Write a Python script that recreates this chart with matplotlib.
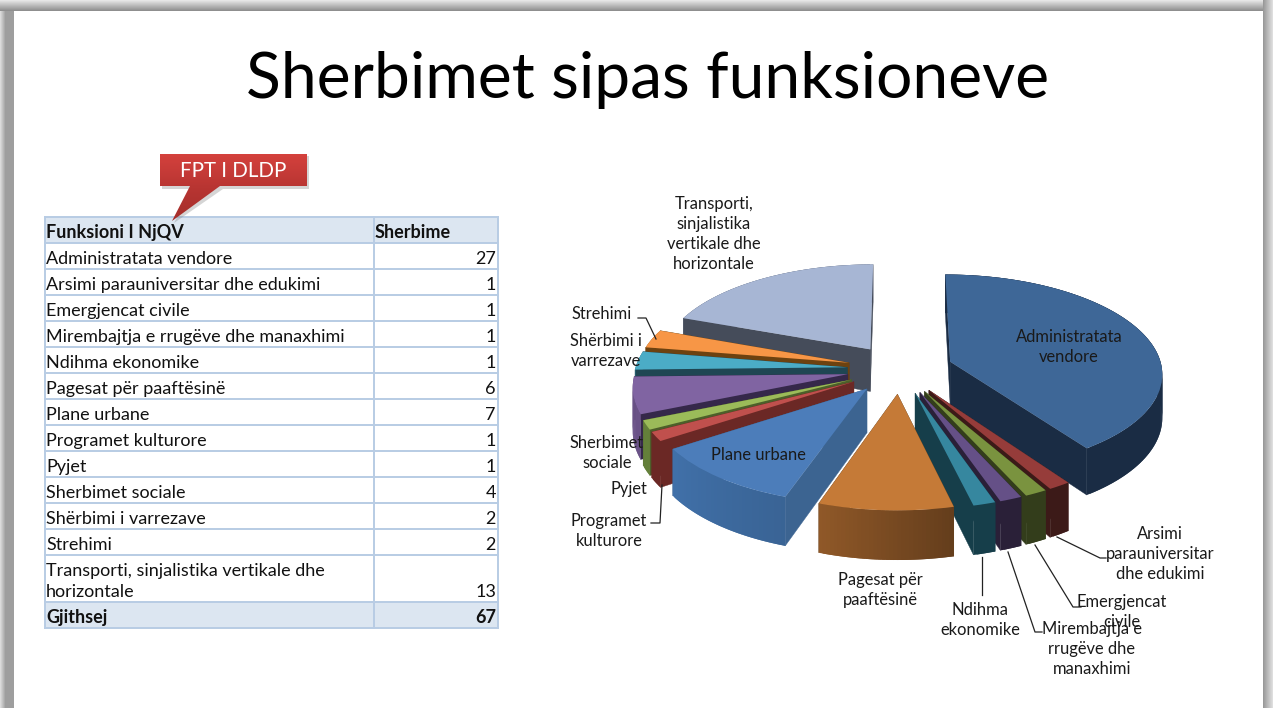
import numpy as np
import matplotlib
matplotlib.use('Agg')
import matplotlib.pyplot as plt
import matplotlib.transforms as mtransforms
from matplotlib.colors import to_rgb, LinearSegmentedColormap
from matplotlib.patches import Rectangle, Polygon

plt.rcParams['font.family'] = ['Lato', 'DejaVu Sans']

# table and pie data
functions = ['Administratata vendore', 'Arsimi parauniversitar dhe edukimi', 'Emergjencat civile',
             'Mirembajtja e rrugëve dhe manaxhimi', 'Ndihma ekonomike', 'Pagesat për paaftësinë',
             'Plane urbane', 'Programet kulturore', 'Pyjet', 'Sherbimet sociale',
             'Shërbimi i varrezave', 'Strehimi', 'Transporti, sinjalistika vertikale dhe\nhorizontale']
services = [27, 1, 1, 1, 1, 6, 7, 1, 1, 4, 2, 2, 13]
total_label = 'Gjithsej'
total_value = 67

top_colors = ['#3e6797', '#963c3a', '#7a933f', '#655087', '#36879f', '#c57a37', '#4c7dba',
              '#c0504d', '#9bbb59', '#8064a2', '#4bacc6', '#f79646', '#a7b6d4']
wall_colors = ['#1a2c44', '#3c1a18', '#333d1b', '#2a2038', '#163e4a', '#7a4b22', '#3d6a9f',
               '#6b2825', '#64803a', '#6a5287', '#2f7f95', '#b06a28', '#6f7a90']
cut_colors = ['#1a2c44', '#3c1a18', '#333d1b', '#2a2038', '#163e4a', '#6d4520', '#3c6491',
              '#6b2825', '#4d5f2a', '#35284a', '#1f4653', '#6d4210', '#454c5a']
wall_fade = [0, 0, 0, 0, 0, 0.35, 0.12, 0, 0, 0, 0, 0, 0]

# pie labels: text, x, y (pixels)
pie_labels = [('Transporti,\nsinjalistika\nvertikale dhe\nhorizontale', 714, 234),
              ('Strehimi', 602, 314),
              ('Shërbimi i\nvarrezave', 606, 351),
              ('Sherbimet\nsociale', 607, 453),
              ('Pyjet', 629, 489),
              ('Programet\nkulturore', 609, 531),
              ('Administratata\nvendore', 1069, 347),
              ('Plane urbane', 758, 455),
              ('Pagesat për\npaaftësinë', 880, 590),
              ('Ndihma\nekonomike', 980, 620),
              ('Emergjencat\ncivile', 1122, 612),
              ('Mirembajtja e\nrrugëve dhe\nmanaxhimi', 1092, 649),
              ('Arsimi\nparauniversitar\ndhe edukimi', 1160, 554)]
leaders = [[(638, 318), (646, 318), (656, 339)],
           [(651, 523), (660, 523), (662, 485)],
           [(1057, 537), (1100, 558), (1106, 558)],
           [(1035, 545), (1073, 607), (1081, 607)],
           [(1008, 552), (1035, 632), (1042, 632)],
           [(982, 557), (982, 595)]]

# 3d look of the pie
CX, CY = 900, 369
RX, RY = 212, 98
PERSP = 0.107
DEPTH = 43
EXPLODE = 0.25


def project(x, y, z=0.0):
    s = 1.0 / (1.0 + PERSP * y)
    return CX + RX * x * s, CY - RY * y * s + DEPTH * z * s


class Tilt(mtransforms.Transform):
    input_dims = 2
    output_dims = 2

    def transform_non_affine(self, values):
        values = np.asarray(values)
        px, py = project(values[:, 0], values[:, 1])
        return np.column_stack([px, py])


def shade(color, f):
    return tuple(min(1, c * f) for c in to_rgb(color))


fig = plt.figure(figsize=(12.73, 7.08), dpi=100)
ax = fig.add_axes([0, 0, 1, 1])

wedges, _ = ax.pie(services, explode=[EXPLODE] * len(services), startangle=90, counterclock=False,
                   colors=top_colors, wedgeprops={'linewidth': 0})

# slices from the back to the front
mids = [np.radians((w.theta1 + w.theta2) / 2) for w in wedges]
order = np.argsort([-np.sin(m) for m in mids])
tilt = Tilt() + ax.transData

for rank, i in enumerate(order):
    w = wedges[i]
    z0 = 10 + rank * 4
    cx0, cy0 = w.center
    angles = np.radians(np.linspace(w.theta1, w.theta2, int(abs(w.theta2 - w.theta1)) + 3))
    xs = cx0 + w.r * np.cos(angles)
    ys = cy0 + w.r * np.sin(angles)

    # outer wall, strips overlap a bit so no seams show
    for k in range(len(angles) - 1):
        t = k / max(1, len(angles) - 2)
        e = min(k + 2, len(angles) - 1)
        xa, ya = project(xs[[k, e]], ys[[k, e]], 0)
        xb, yb = project(xs[[k, e]], ys[[k, e]], 1)
        facing_front = np.sin((angles[k] + angles[k + 1]) / 2) < 0
        f = 1 + wall_fade[i] * (t - 0.5 if xa[1] < xa[0] else 0.5 - t)
        ax.fill([xa[0], xa[1], xb[1], xb[0]], [ya[0], ya[1], yb[1], yb[0]],
                facecolor=shade(wall_colors[i], f), edgecolor='none', lw=0,
                zorder=z0 + (2 if facing_front else 0))

    # the two cut faces
    for xe, ye in [(xs[0], ys[0]), (xs[-1], ys[-1])]:
        pts = [project(cx0, cy0, 0), project(xe, ye, 0), project(xe, ye, 1), project(cx0, cy0, 1)]
        ax.add_patch(Polygon(pts, closed=True, facecolor=cut_colors[i], edgecolor=cut_colors[i],
                             lw=0.3, zorder=z0 + 1))

    w.set_transform(tilt)
    w.set_zorder(z0 + 3)

for text, x, y in pie_labels:
    ax.text(x, y, text, ha='center', va='center', fontsize=11.9, color='#1a1a1a',
            linespacing=1.31, zorder=100)
for pts in leaders:
    ax.plot([p[0] for p in pts], [p[1] for p in pts], color='#222222', lw=0.9, zorder=99)

# slide frame
for k in range(14):
    g = 0.86 - 0.24 * min(k, 5) / 5
    ax.add_patch(Rectangle((k, 0), 1, 708, color=str(g), lw=0, zorder=1))
for k in range(11):
    g = 0.9 - 0.34 * k / 10
    ax.add_patch(Rectangle((0, k), 1273, 1, color=str(g), lw=0, zorder=1))
for k in range(10):
    g = 0.6 + 0.03 * k
    ax.add_patch(Rectangle((1263 + k, 0), 1, 708, color=str(g), lw=0, zorder=1))

ax.text(648, 80, 'Sherbimet sipas funksioneve', ha='center', va='center', fontsize=46.2,
        color='black', zorder=5)

# table
LEFT, MID, RIGHT = 45, 374, 498
LINE = '#b8cce4'
HEAD = '#dce6f1'
row_tops = [217, 243, 269, 295, 321, 347, 373, 399, 425, 451, 477, 503, 529, 555, 602, 628]
ax.add_patch(Rectangle((LEFT, row_tops[0]), RIGHT - LEFT, row_tops[1] - row_tops[0], color=HEAD, lw=0, zorder=2))
ax.add_patch(Rectangle((LEFT, row_tops[-2]), RIGHT - LEFT, row_tops[-1] - row_tops[-2], color=HEAD, lw=0, zorder=2))
for y in row_tops:
    ax.plot([LEFT, RIGHT], [y, y], color=LINE, lw=1.4, zorder=3)
for x in [LEFT, MID, RIGHT]:
    ax.plot([x, x], [row_tops[0], row_tops[-1]], color=LINE, lw=1.4, zorder=3)

table_font = dict(fontsize=13, color='#111111', zorder=4, va='bottom')
ax.text(46, row_tops[1] - 2, 'Funksioni I NjQV', fontweight='bold', **table_font)
ax.text(375, row_tops[1] - 2, 'Sherbime', fontweight='bold', **table_font)
for name, val, bottom in zip(functions, services, row_tops[2:-1]):
    ax.text(46, bottom - 2, name, linespacing=1.39, **table_font)
    ax.text(496, bottom - 2, str(val), ha='right', **table_font)
ax.text(46, row_tops[-1] - 2, total_label, fontweight='bold', **table_font)
ax.text(496, row_tops[-1] - 2, str(total_value), ha='right', fontweight='bold', **table_font)

# red callout over the table
shadow = [(162, 156), (309, 156), (309, 189), (223, 189), (174, 223), (192, 189), (162, 189)]
callout = [(160, 154), (307, 154), (307, 186), (220, 186), (172, 221), (190, 186), (160, 186)]
ax.add_patch(Polygon(shadow, closed=True, facecolor='#888888', edgecolor='none', alpha=0.35, zorder=6))
reds = LinearSegmentedColormap.from_list('reds', ['#d4413d', '#b83532', '#a52e2b'])
grad = ax.imshow(np.linspace(0, 1, 64).reshape(-1, 1), cmap=reds, extent=(160, 307, 221, 154),
                 aspect='auto', zorder=7)
clip = Polygon(callout, closed=True, transform=ax.transData, facecolor='none', edgecolor='none')
ax.add_patch(clip)
grad.set_clip_path(clip)
ax.text(233, 171, 'FPT I DLDP', ha='center', va='center', fontsize=14.8, color='white', zorder=8)

ax.set_aspect('auto')
ax.set_xlim(0, 1273)
ax.set_ylim(708, 0)
ax.axis('off')

fig.savefig('out.png', dpi=100)
